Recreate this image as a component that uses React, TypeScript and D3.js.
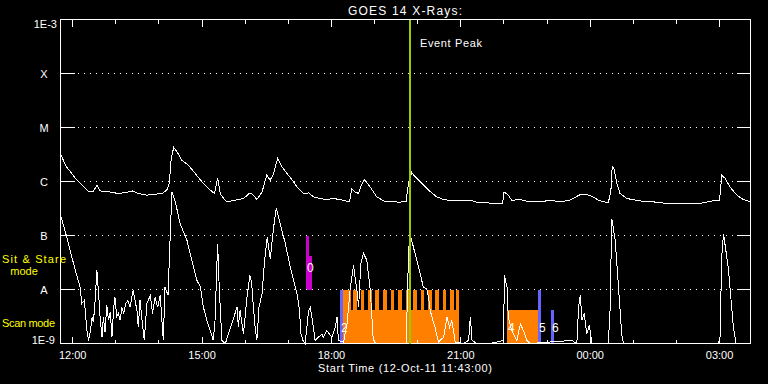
import React from "react";
import * as d3 from "d3";

// ---- data (times in decimal hours from 2011-10-12 00:00; >24 = next day) ----
const longTimes = [11.73, 11.83, 12.06, 12.17, 12.37, 12.47, 12.56, 12.64, 12.87, 13.05, 13.22, 13.4, 13.52, 13.72, 13.91, 14.07, 14.18, 14.24, 14.28, 14.34, 14.42, 14.53, 14.68, 14.84, 15.0, 15.19, 15.29, 15.36, 15.42, 15.5, 15.57, 15.77, 15.96, 16.11, 16.19, 16.27, 16.39, 16.5, 16.58, 16.66, 16.75, 16.85, 17.0, 17.14, 17.2, 17.35, 17.47, 17.58, 17.74, 17.89, 18.05, 18.28, 18.42, 18.47, 18.55, 18.63, 18.68, 18.76, 18.9, 19.05, 19.21, 19.36, 19.59, 19.73, 19.79, 19.86, 19.94, 20.1, 20.25, 20.44, 20.6, 20.83, 21.06, 21.22, 21.37, 21.6, 21.97, 22.0, 22.1, 22.18, 22.38, 22.59, 22.84, 23.07, 23.3, 23.53, 23.77, 23.88, 24.04, 24.19, 24.42, 24.48, 24.51, 24.55, 24.62, 24.69, 24.85, 25.16, 25.47, 25.78, 26.24, 26.55, 26.78, 27.0, 27.05, 27.13, 27.24, 27.4, 27.55, 27.71];
const longFlux = [3.1e-6, 2.0e-6, 1.15e-6, 9.4e-7, 6.4e-7, 6.4e-7, 8.5e-7, 6.7e-7, 6.4e-7, 6.0e-7, 6.25e-7, 6.7e-7, 6.0e-7, 5.6e-7, 5.8e-7, 6.0e-7, 6.9e-7, 9.2e-7, 2.48e-6, 4.28e-6, 3.54e-6, 2.48e-6, 2.0e-6, 1.41e-6, 9.8e-7, 6.9e-7, 6.0e-7, 1.17e-6, 6.0e-7, 4.84e-7, 4.19e-7, 4.5e-7, 4.84e-7, 6.15e-7, 5.6e-7, 4.63e-7, 6.4e-7, 1.31e-6, 1.06e-6, 1.41e-6, 2.67e-6, 1.87e-6, 1.31e-6, 9.4e-7, 7.9e-7, 6.0e-7, 6.15e-7, 5.2e-7, 4.84e-7, 4.63e-7, 4.84e-7, 4.5e-7, 4.19e-7, 7.4e-7, 6.4e-7, 6.0e-7, 8.2e-7, 1.09e-6, 7.9e-7, 5.2e-7, 4.36e-7, 4.26e-7, 4.13e-7, 4.31e-7, 9.8e-7, 1.47e-6, 1.22e-6, 9.2e-7, 6.9e-7, 5.2e-7, 4.63e-7, 4.36e-7, 4.36e-7, 4.5e-7, 4.13e-7, 4.01e-7, 3.91e-7, 6.4e-7, 5.6e-7, 4.5e-7, 4.63e-7, 4.19e-7, 4.19e-7, 4.5e-7, 4.19e-7, 4.5e-7, 5.74e-7, 5.8e-7, 5.33e-7, 4.5e-7, 4.01e-7, 6.9e-7, 1.92e-6, 1.74e-6, 9.2e-7, 6.0e-7, 4.84e-7, 4.36e-7, 4.19e-7, 3.91e-7, 3.91e-7, 3.91e-7, 4.31e-7, 4.5e-7, 1.31e-6, 1.14e-6, 7.9e-7, 5.6e-7, 4.63e-7, 4.19e-7];

const shortTimes = [11.73, 11.83, 11.94, 12.06, 12.17, 12.21, 12.27, 12.33, 12.37, 12.41, 12.45, 12.48, 12.52, 12.56, 12.6, 12.64, 12.68, 12.71, 12.75, 12.79, 12.83, 12.87, 12.91, 12.95, 12.98, 13.02, 13.06, 13.1, 13.14, 13.18, 13.23, 13.28, 13.33, 13.4, 13.49, 13.52, 13.56, 13.6, 13.66, 13.72, 13.8, 13.85, 13.91, 13.97, 14.03, 14.07, 14.1, 14.14, 14.21, 14.26, 14.3, 14.38, 14.49, 14.65, 14.76, 14.88, 14.96, 15.03, 15.11, 15.19, 15.26, 15.3, 15.36, 15.4, 15.46, 15.54, 15.81, 15.84, 15.88, 15.96, 16.04, 16.11, 16.15, 16.19, 16.23, 16.27, 16.32, 16.39, 16.45, 16.51, 16.58, 16.66, 16.72, 16.81, 16.93, 17.04, 17.12, 17.2, 17.26, 17.29, 17.34, 17.39, 17.47, 17.51, 17.57, 17.62, 17.7, 17.78, 17.81, 17.89, 18.01, 18.09, 18.13, 18.16, 18.28, 18.36, 18.43, 18.51, 18.59, 18.63, 18.68, 18.74, 18.82, 18.9, 18.97, 19.05, 19.74, 19.76, 19.81, 19.9, 20.02, 20.13, 20.21, 20.25, 20.29, 20.33, 20.4, 20.48, 20.6, 20.68, 20.74, 20.79, 20.87, 21.06, 21.18, 21.22, 21.26, 21.37, 21.68, 21.99, 22.01, 22.07, 22.1, 22.18, 22.3, 22.38, 22.45, 22.53, 22.61, 23.57, 23.69, 23.73, 23.77, 23.81, 23.86, 23.92, 23.98, 24.04, 24.42, 24.46, 24.5, 24.58, 24.65, 24.73, 24.77, 26.97, 27.01, 27.05, 27.09, 27.2, 27.32, 27.38, 27.71];
const shortFlux = [2.2e-7, 1.16e-7, 5.3e-8, 2.26e-8, 1.11e-8, 5.5e-9, 6.3e-9, 1.74e-9, 1.14e-9, 1.74e-9, 3.1e-9, 2.5e-9, 6.3e-9, 2.26e-8, 8.4e-9, 2.7e-9, 1.31e-9, 3.1e-9, 1.62e-9, 5.1e-9, 2.7e-9, 3.8e-9, 1.31e-9, 4.7e-9, 7.2e-9, 3.1e-9, 3.6e-9, 2.7e-9, 4.7e-9, 3.6e-9, 5.5e-9, 6.3e-9, 4.7e-9, 9.6e-9, 4.1e-9, 2.0e-9, 6.3e-9, 3.1e-9, 1.14e-9, 5.5e-9, 7.8e-9, 3.6e-9, 7.2e-9, 4.7e-9, 7.8e-9, 2.5e-9, 1.14e-9, 1.11e-8, 7.8e-9, 9.4e-8, 6.4e-7, 4.19e-7, 1.66e-7, 8.1e-8, 3.5e-8, 1.48e-8, 1.11e-8, 4.7e-9, 2.7e-9, 1.74e-9, 1.14e-9, 2.7e-9, 7.1e-8, 9.6e-9, 1.14e-9, 1e-9, 4.7e-9, 2.0e-9, 4.1e-9, 1.51e-9, 7.2e-9, 1.83e-8, 1.28e-8, 4.7e-9, 2.0e-9, 1.14e-9, 4.7e-9, 8.4e-9, 3.5e-8, 9.4e-8, 3.7e-8, 1.44e-7, 3.2e-7, 1.66e-7, 7.1e-8, 2.7e-8, 1.48e-8, 8.4e-9, 4.1e-9, 1.51e-9, 1.14e-9, 1e-9, 4.1e-9, 4.7e-9, 2.3e-9, 1.14e-9, 1.31e-9, 1.51e-9, 1.31e-9, 1.74e-9, 1.31e-9, 2.0e-9, 3.1e-9, 1.14e-9, 1.06e-9, 2.3e-9, 9.6e-9, 2.8e-8, 9.6e-9, 4.7e-9, 3.0e-8, 4.7e-8, 3.5e-8, 9.6e-9, 1.14e-9, 1e-9, 1e-9, 9.6e-9, 1.16e-7, 6.1e-8, 2.6e-8, 1.11e-8, 1.03e-8, 7.2e-9, 4.1e-9, 3.1e-9, 2.0e-9, 1.06e-9, 1.31e-9, 3.1e-9, 2.0e-9, 2.7e-9, 1.06e-9, 1e-9, 1.14e-9, 3.1e-9, 1.14e-9, 1e-9, 1e-9, 1.14e-9, 1.83e-8, 1.11e-8, 3.1e-9, 1.74e-9, 1.14e-9, 2.3e-9, 1.74e-9, 1.14e-9, 1e-9, 1.14e-9, 1e-9, 4.7e-9, 7.8e-9, 2.7e-9, 3.6e-9, 1.51e-9, 2.16e-9, 1e-9, 1e-9, 4.1e-9, 2.06e-7, 8.1e-8, 1.28e-8, 1.51e-9, 1e-9, 1e-9, 1.31e-9, 4.0e-8, 1.08e-7, 2.6e-8, 2.0e-9, 1e-9, 1e-9];

// observation intervals [start, end, base flux, top flux]
const sitStareBars = [
  [17.41, 17.48, 1e-8, 1e-7],
  [17.48, 17.55, 1e-8, 4.1e-8],
];
const scanBlocks = [
  [18.27, 20.96, 1e-9, 4.1e-9],
  [22.07, 22.79, 1e-9, 4.1e-9],
];
const scanTeeth = [
  [18.27, 18.45], [18.51, 18.59], [18.68, 18.76], [18.85, 18.93], [19.02, 19.1], [19.2, 19.28],
  [19.38, 19.46], [19.55, 19.63], [19.72, 19.8], [19.9, 19.98], [20.07, 20.15], [20.24, 20.32],
  [20.41, 20.49], [20.58, 20.66], [20.76, 20.84], [20.89, 20.96],
];
const toothTop = 1e-8;
const markerBars = [
  [18.2, 18.27, 1e-9, 1e-8],
  [22.79, 22.86, 1e-9, 1e-8],
  [23.09, 23.16, 1e-9, 4.1e-9],
];
const obsLabels = ["0", "2", "4", "5", "6"];
const obsLabelTimes = [17.41, 18.2, 22.07, 22.79, 23.09];
const obsLabelFlux = [2.1e-8, 1.6e-9, 1.6e-9, 1.6e-9, 1.6e-9];

const eventPeak = 19.82;
const yLevels = [1e-3, 1e-4, 1e-5, 1e-6, 1e-7, 1e-8, 1e-9];
const yLabels = ["1E-3", "X", "M", "C", "B", "A", "1E-9"];
const startHour = 11 + 43 / 60;
const endHour = 27 + 43 / 60;

const BASE = Date.UTC(2011, 9, 12);
const toDate = (h: number) => new Date(BASE + h * 3600000);

const FONT = "'Liberation Sans', Arial, sans-serif";

export default function App() {
  const W = 768, H = 384;
  const L = 60.5, R = 750.5, T = 19.5, B = 343.5;
  const x = d3.scaleUtc().domain([toDate(startHour), toDate(endHour)]).range([L, R]);
  const y = d3.scaleLog().domain([1e-9, 1e-3]).range([B, T]);
  const xh = (h: number) => x(toDate(h));

  const hourTicks = d3.utcHour.range(toDate(Math.ceil(startHour)), toDate(endHour));
  const fmt = d3.utcFormat("%H:%M");

  const longLine = d3.line<number>().x((_, i) => xh(longTimes[i])).y((v) => y(v));
  const shortLine = d3.line<number>().x((_, i) => xh(shortTimes[i])).y((v) => y(Math.max(v, 1e-9)));

  const rect = (b: number[], color: string, key: string) => {
    const x0 = Math.round(xh(b[0]));
    const x1 = Math.round(xh(b[1]));
    const y0 = Math.round(y(b[3]));
    const y1 = Math.round(y(b[2]));
    return <rect key={key} x={x0} y={y0} width={Math.max(1, x1 - x0)} height={y1 - y0} fill={color} />;
  };

  return (
    <svg width={W} height={H} style={{ position: "absolute", left: 0, top: 0, background: "#000" }} fontFamily={FONT}>
      <rect x={0} y={0} width={W} height={H} fill="#000" />
      <g shapeRendering="crispEdges">
        {sitStareBars.map((b, i) => rect(b, "#cc00cc", "ss" + i))}
        {scanBlocks.map((b, i) => rect(b, "#ff8000", "sb" + i))}
        {scanTeeth.map((t, i) => rect([t[0], t[1], 1e-9, toothTop], "#ff8000", "st" + i))}
        {markerBars.map((b, i) => rect(b, "#6464ff", "mb" + i))}
      </g>
      {/* grid */}
      <g shapeRendering="crispEdges">
        {yLevels.slice(1, 6).map((v, i) => (
          <line key={"g" + i} x1={60} x2={750} y1={y(v)} y2={y(v)} stroke="#fff" strokeDasharray="1 5" />
        ))}
        {yLevels.map((v, i) => (
          <g key={"yt" + i}>
            <line x1={L} x2={L + 14} y1={y(v)} y2={y(v)} stroke="#fff" />
            <line x1={R - 14} x2={R} y1={y(v)} y2={y(v)} stroke="#fff" />
          </g>
        ))}
        {hourTicks.map((d, i) => {
          const major = d.getUTCHours() % 3 === 0;
          const len = major ? 7 : 4;
          const px = Math.floor(x(d)) + 0.5;
          return (
            <g key={"xt" + i}>
              <line x1={px} x2={px} y1={T} y2={T + len} stroke="#fff" />
              <line x1={px} x2={px} y1={B} y2={B - len} stroke="#fff" />
            </g>
          );
        })}
        <rect x={L} y={T} width={R - L} height={B - T} fill="none" stroke="#fff" />
      </g>
      {/* curves */}
      <g shapeRendering="crispEdges">
        <path d={longLine(longFlux) || ""} fill="none" stroke="#fff" strokeWidth={1} />
        <path d={shortLine(shortFlux) || ""} fill="none" stroke="#fff" strokeWidth={1} />
      </g>
      {/* event peak */}
      <line x1={xh(eventPeak)} x2={xh(eventPeak)} y1={T} y2={B} stroke="#99cc00" strokeWidth={2} shapeRendering="crispEdges" />
      <text x={xh(eventPeak) + 10} y={47} fill="#fff" fontSize={11} textLength={62}>Event Peak</text>
      {obsLabels.map((s, i) => (
        <text key={"ol" + i} x={xh(obsLabelTimes[i]) + 1} y={y(obsLabelFlux[i])} fill="#fff" fontSize={12}>{s}</text>
      ))}
      {/* title */}
      <text x={405} y={15} fill="#fff" fontSize={12} textAnchor="middle" textLength={114}>GOES 14 X-Rays:</text>
      {/* y labels */}
      {yLabels.map((s, i) => {
        const v = yLevels[i];
        if (i === 0) return <text key={"yl" + i} x={57} y={y(v) + 8} fill="#fff" fontSize={11} textAnchor="end">{s}</text>;
        if (i === 6) return <text key={"yl" + i} x={55} y={y(v)} fill="#fff" fontSize={11} textAnchor="end">{s}</text>;
        return <text key={"yl" + i} x={44} y={y(v) + 4} fill="#fff" fontSize={11} textAnchor="middle">{s}</text>;
      })}
      <text x={2} y={263} fill="#ffff00" fontSize={11} textLength={64}>Sit &amp; Stare</text>
      <text x={24} y={275} fill="#ffff00" fontSize={11} textAnchor="middle">mode</text>
      <text x={2} y={327} fill="#ffff00" fontSize={11} textLength={53}>Scan mode</text>
      {/* x labels */}
      {hourTicks.filter((d) => d.getUTCHours() % 3 === 0).map((d, i) => (
        <text key={"xl" + i} x={x(d)} y={359} fill="#fff" fontSize={11} textAnchor="middle">{fmt(d)}</text>
      ))}
      <text x={405} y={372} fill="#fff" fontSize={11} textAnchor="middle" textLength={174}>Start Time (12-Oct-11 11:43:00)</text>
    </svg>
  );
}
